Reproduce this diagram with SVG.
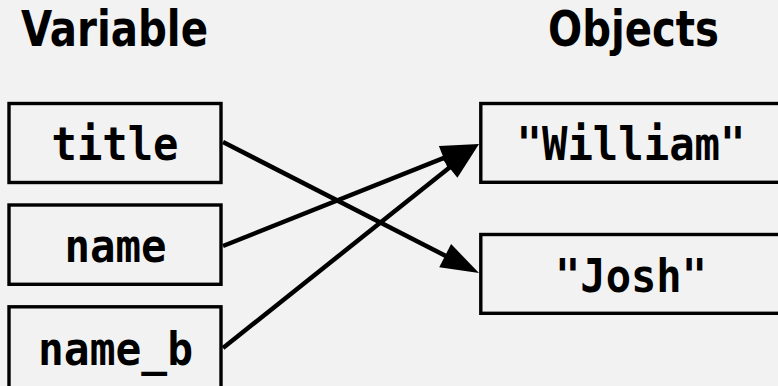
<svg xmlns="http://www.w3.org/2000/svg" width="778" height="386" viewBox="0 0 778 386">
  <style>
    .box { fill: none; stroke: #000; stroke-width: 3.4; }
    .head { font-family: "DejaVu Sans Condensed", "DejaVu Sans", sans-serif; font-weight: bold; font-size: 50px; fill: #000; }
    .code { font-family: "DejaVu Sans Mono", "Liberation Mono", monospace; font-weight: bold; font-size: 46px; fill: #000; text-anchor: middle; }
    .link { fill: none; stroke: #000; stroke-width: 4.5; marker-end: url(#arrow); }
  </style>
  <defs>
    <marker id="arrow" markerUnits="userSpaceOnUse" markerWidth="40" markerHeight="28" refX="28" refY="13" orient="auto" overflow="visible">
      <path d="M0,0 L38,13 L0,26 Z" fill="#000"/>
    </marker>
  </defs>
  <rect width="778" height="386" fill="#f2f2f2"/>

  <text class="head" x="21" y="46" textLength="187" lengthAdjust="spacingAndGlyphs">Variable</text>
  <text class="head" x="548" y="46" textLength="171" lengthAdjust="spacingAndGlyphs">Objects</text>

  <g id="var-title">
    <rect class="box" x="9" y="103.5" width="212" height="79"/>
    <text class="code" x="115" y="160" textLength="127" lengthAdjust="spacingAndGlyphs">title</text>
  </g>
  <g id="var-name">
    <rect class="box" x="9" y="205" width="212" height="79.3"/>
    <text class="code" x="115.5" y="261.7" textLength="102" lengthAdjust="spacingAndGlyphs">name</text>
  </g>
  <g id="var-name-b">
    <rect class="box" x="9" y="306.8" width="212" height="100"/>
    <text class="code" x="115.5" y="365" textLength="155" lengthAdjust="spacingAndGlyphs">name_b</text>
  </g>
  <g id="obj-william">
    <rect class="box" x="480.8" y="103.5" width="320" height="78.8"/>
    <text class="code" x="631" y="160" textLength="229" lengthAdjust="spacingAndGlyphs">"William"</text>
  </g>
  <g id="obj-josh">
    <rect class="box" x="480.8" y="234.5" width="320" height="78.8"/>
    <text class="code" x="631" y="291.7" textLength="152" lengthAdjust="spacingAndGlyphs">"Josh"</text>
  </g>

  <g id="connectors">
    <line class="link" x1="223" y1="142" x2="470.1" y2="268.4"/>
    <line class="link" x1="223" y1="246" x2="469.7" y2="147.7"/>
    <line class="link" x1="223" y1="348" x2="471.2" y2="150.2"/>
  </g>
</svg>
